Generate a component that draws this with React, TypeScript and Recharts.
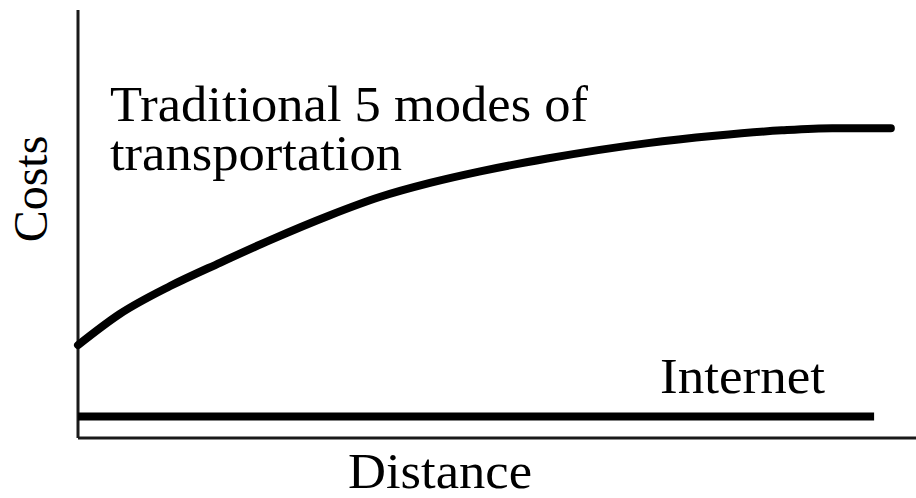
import React from 'react';
import { LineChart, Line, XAxis, YAxis, ReferenceLine } from 'recharts';

// Distance (x) and cost (y) on a 0-100 scale
const distance = [0, 5, 11, 17, 23, 30, 36, 42, 48, 56, 68, 76, 84, 90, 97];
const traditionalCost = [21.7, 29, 35.5, 41, 46.3, 52, 56.3, 59.6, 62.3, 65.3, 68.9, 70.6, 71.9, 72.4, 72.4];
const internetDistance = [0, 95];
const internetCost = [5, 5];

const traditionalData = distance.map((d, i) => ({ d, cost: traditionalCost[i] }));
const internetData = internetDistance.map((d, i) => ({ d, cost: internetCost[i] }));

const FONT = '"Liberation Serif", "Times New Roman", serif';

const App: React.FC = () => {
  return (
    <div style={{ position: 'fixed', left: 0, top: 0, width: 916, height: 498, background: '#fff' }}>
      <LineChart width={916} height={498} data={traditionalData} margin={{ top: 10, right: 0, bottom: 60, left: 78 }}>
        <XAxis type="number" dataKey="d" domain={[0, 100]} hide />
        <YAxis type="number" domain={[0, 100]} hide />
        {/* axes drawn as reference lines at the origin */}
        <ReferenceLine x={0} stroke="#1a1a1a" strokeWidth={3} />
        <ReferenceLine y={0} stroke="#1a1a1a" strokeWidth={3} />
        <Line
          dataKey="cost"
          type="monotone"
          stroke="#000"
          strokeWidth={8}
          strokeLinecap="round"
          dot={false}
          isAnimationActive={false}
        />
        <Line
          data={internetData}
          dataKey="cost"
          type="linear"
          stroke="#000"
          strokeWidth={8}
          dot={false}
          isAnimationActive={false}
        />
        <text x={110} y={121} fontFamily={FONT} fontSize={51} fill="#000" textLength={478} lengthAdjust="spacingAndGlyphs">
          Traditional 5 modes of
        </text>
        <text x={110} y={170} fontFamily={FONT} fontSize={51} fill="#000" textLength={292} lengthAdjust="spacingAndGlyphs">
          transportation
        </text>
        <text x={660} y={393} fontFamily={FONT} fontSize={51} fill="#000" textLength={165} lengthAdjust="spacingAndGlyphs">
          Internet
        </text>
        <text x={348} y={488} fontFamily={FONT} fontSize={51} fill="#000" textLength={184} lengthAdjust="spacingAndGlyphs">
          Distance
        </text>
        <text
          x={47}
          y={189}
          textAnchor="middle"
          transform="rotate(-90 47 189)"
          fontFamily={FONT}
          fontSize={48}
          fill="#000"
        >
          Costs
        </text>
      </LineChart>
    </div>
  );
};

export default App;
